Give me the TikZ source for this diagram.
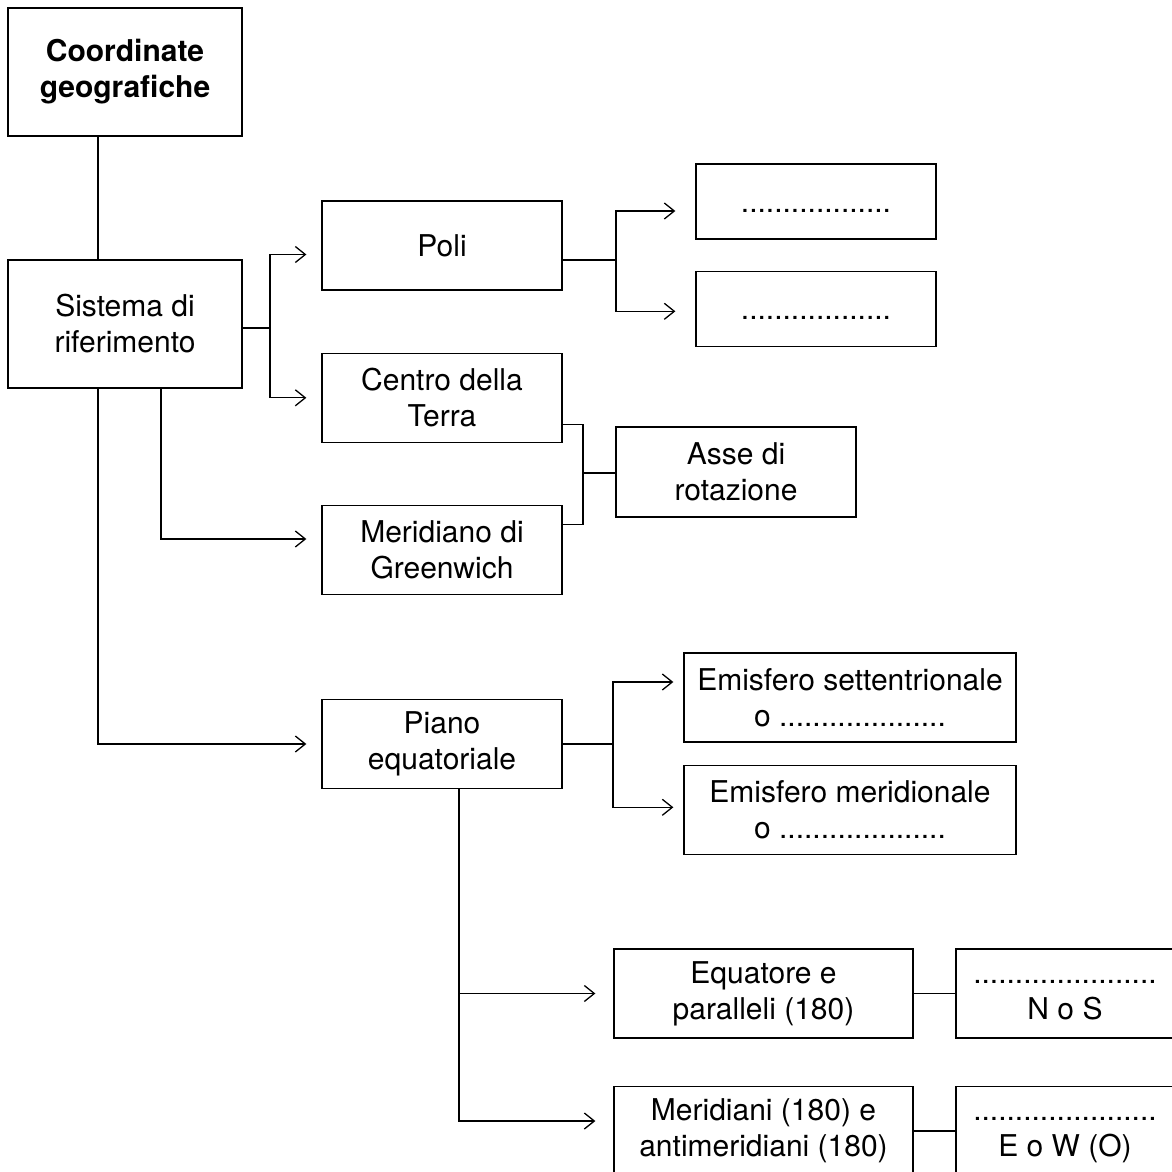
\documentclass[tikz,border=0pt]{standalone}
\usepackage{fontspec}
\setmainfont{TeX Gyre Heros}
\usetikzlibrary{arrows.meta,positioning}

\begin{document}
\begin{tikzpicture}[x=0.5pt, y=-0.5pt, line width=0.65pt, font=\fontsize{15}{18}\selectfont]
    \tikzstyle{box}=[draw, rectangle, align=center, inner sep=0pt, minimum width=120pt, minimum height=44.5pt]
    \tikzstyle{arr}=[-{Straight Barb[length=5pt,width=8pt]}, shorten >=7.5pt]

    \useasboundingbox (0,0) rectangle (1172,1172);

    \node[box, minimum width=117pt, minimum height=64pt, font=\fontsize{15}{18}\selectfont\bfseries] (coord) at (125,72) {Coordinate\\geografiche};
    \node[box, minimum width=117pt, minimum height=64pt] (sistema) at (125,324) {Sistema di\\riferimento};
    \node[box] (poli) at (442,245.5) {Poli};
    \node[box] (centro) [below=31pt of poli] {Centro della\\Terra};
    \node[box] (greenwich) [below=31pt of centro] {Meridiano di\\Greenwich};
    \node[box, minimum height=45pt] (asse) at (736,472) {Asse di\\rotazione};
    \node[box, minimum height=37.5pt] (vuoto1) at (816,201.5) {\vphantom{P}..................};
    \node[box, minimum height=37.5pt] (vuoto2) [below=15.5pt of vuoto1] {\vphantom{P}..................};
    \node[box] (piano) at (442,744) {Piano\\equatoriale};
    \node[box, minimum width=166pt] (sett) at (850,697.5) {Emisfero settentrionale\\o ....................};
    \node[box, minimum width=166pt] (merid) [below=11pt of sett] {Emisfero meridionale\\o ....................};
    \node[box, minimum width=149.5pt] (equat) at (763.5,993.5) {Equatore e\\paralleli (180)};
    \node[box, minimum width=149.5pt] (meridiani) at (763.5,1131) {Meridiani (180) e\\antimeridiani (180)};
    \node[box, minimum width=109pt] (nos) at (1065,993.5) {\vphantom{E}......................\\N o S\vphantom{()}};
    \node[box, minimum width=109pt] (eow) at (1065,1131) {\vphantom{M}......................\\E o W (O)};

    \coordinate (j0) at (98,744);
    \coordinate (j1) at (270,328);
    \coordinate (j2) at (161,539);
    \coordinate (j3) at (583,473);
    \coordinate (j4) at (616,260);
    \coordinate (j5) at (613,744);
    \coordinate (j6) at (459,993.5);

    \draw (coord.south -| j0) -- (sistema.north -| j0);
    \draw (sistema.east |- j1) -- (j1);
    \draw[arr] (j1) |- ([yshift=-4.5pt]poli.west);
    \draw[arr] (j1) |- (centro.west);
    \draw[arr] (sistema.south -| j2) -- (j2) -- (greenwich.west |- j2);
    \draw[arr] (sistema.south -| j0) |- (piano.west);

    \draw ([yshift=-13.25pt]centro.east) -| (j3) |- ([yshift=12.75pt]greenwich.east);
    \draw (j3) -- (asse.west |- j3);

    \draw ([yshift=-7.25pt]poli.east) -- (j4);
    \draw[arr, shorten >=10pt] (j4) |- ([yshift=-4.75pt]vuoto1.west);
    \draw[arr, shorten >=10pt] (j4) |- ([yshift=-1.25pt]vuoto2.west);

    \draw (piano.east) -- (j5);
    \draw[arr, shorten >=5pt] (j5) |- ([yshift=7.75pt]sett.west);
    \draw[arr, shorten >=5pt] (j5) |- ([yshift=1.25pt]merid.west);

    \draw[arr, shorten >=9pt] (piano.south -| j6) |- (equat.west);
    \draw[arr, shorten >=9pt] (piano.south -| j6) |- ([yshift=5pt]meridiani.west);
    \draw (equat.east) -- (nos.west);
    \draw (meridiani.east) -- (eow.west);

\end{tikzpicture}
\end{document}
